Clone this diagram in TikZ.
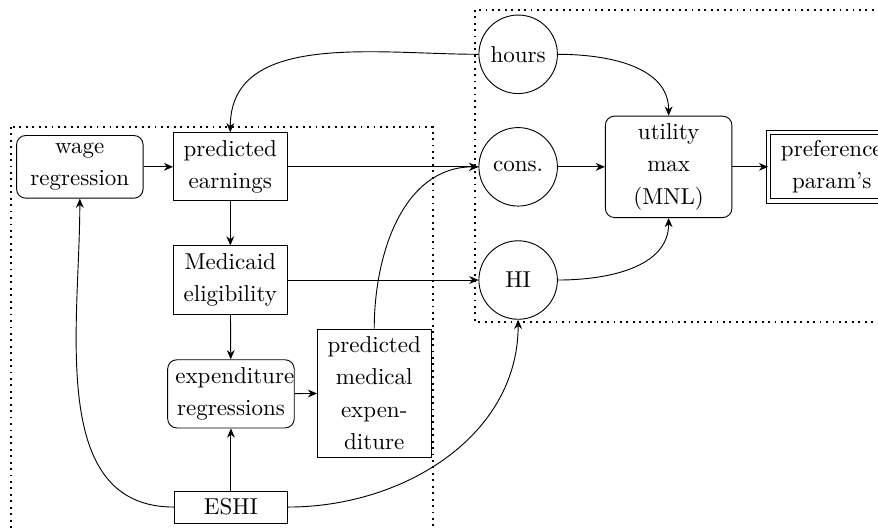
\documentclass[tikz,border=0pt]{standalone}
\usepackage{amsmath}
\usetikzlibrary{arrows.meta}

\begin{document}
\fontsize{10}{14}\selectfont
\begin{tikzpicture}[>={Stealth[length=4pt,width=3.4pt]}]

      \clip (0,0) rectangle (13.42,-8.08);

      % the two groups
      \draw[thick,dotted] (0.17,-1.94) rectangle (6.62,-9);
      \draw[thick,dotted] (7.26,-0.15) rectangle (14,-4.92);

      \begin{scope}[every node/.style={draw,rounded corners,text width=1.7cm,align=center}]
        \node (wage) at (1.22,-2.55) {wage\\ regression};
        \node (expreg) at (3.53,-6.02) {expenditure\\ regressions};
        \node (util) at (10.22,-2.55) {utility\\ max\\ (MNL)};
      \end{scope}

      \begin{scope}[every node/.style={draw,text width=1.5cm,align=center}]
        \node (earn) at (3.52,-2.55) {predicted\\ earnings};
        \node (medic) at (3.52,-4.28) {Medicaid\\ eligibility};
        \node (predmed) at (5.72,-6.01) {predicted\\ medical\\ expen-\\ diture};
        \node (eshi) at (3.53,-7.75) {ESHI};
      \end{scope}

      \begin{scope}[every node/.style={draw,circle,minimum size=1.2cm,inner sep=0pt}]
        \node (hours) at (7.92,-0.83) {hours};
        \node (cons) at (7.92,-2.55) {cons.};
        \node (hi) at (7.92,-4.28) {HI};
      \end{scope}

      \node[draw,double,double distance=1.5pt,text width=1.7cm,align=center,anchor=west] (pref) at (11.74,-2.55) {preference\\ param's};

      \begin{scope}[every edge/.style={draw,->}]
        \path (wage) edge (earn);
        \path (earn) edge (medic);
        \path (medic) edge (expreg);
        \path (expreg) edge (predmed);
        \path (eshi) edge (expreg);
        \path (earn) edge (cons);
        \path (medic) edge (hi);
        \path (cons) edge (util);
        \path (util) edge (pref);
        \path (hours.west) edge[out=180,in=90] (earn.north);
        \path (predmed.north) edge[out=90,in=180] (cons.west);
        \path (eshi.west) edge[out=180,in=-90] (wage.south);
        \path (eshi.east) edge[out=0,in=-90] (hi.south);
        \path (hours.east) edge[out=0,in=90] (util.north);
        \path (hi.east) edge[out=0,in=-90] (util.south);
      \end{scope}

\end{tikzpicture}
\end{document}
